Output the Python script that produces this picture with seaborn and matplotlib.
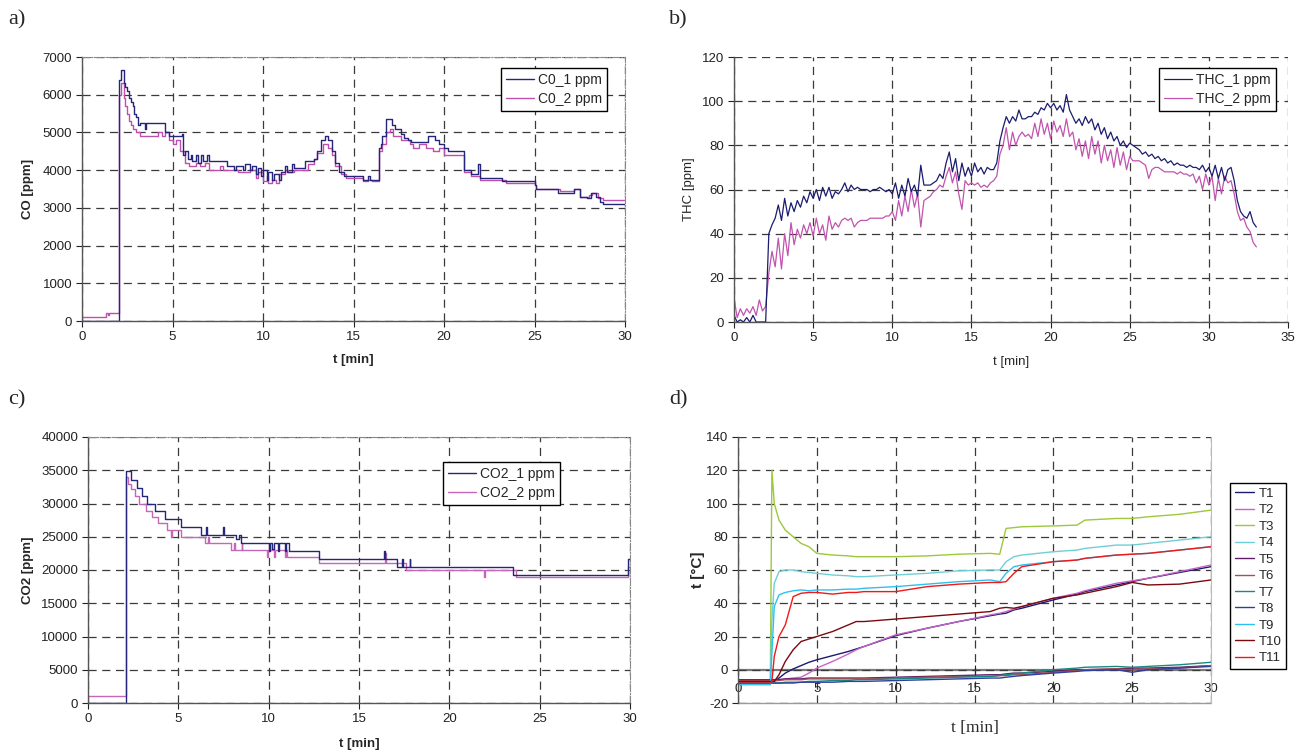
import numpy as np
import pandas as pd
import matplotlib
matplotlib.use("Agg")
import matplotlib.pyplot as plt
import seaborn as sns

# ---------------- data ----------------
# a) CO steps (time [min], ppm)
CO1 = [(0, 0), (2.05, 6400), (2.15, 6650), (2.3, 6300), (2.4, 6200), (2.5, 6100), (2.6, 5900),
       (2.7, 5800), (2.8, 5700), (2.9, 5500), (3.0, 5400), (3.1, 5200), (3.2, 5250), (3.5, 5100),
       (3.55, 5250), (4.6, 5000), (4.8, 4900), (5.5, 4950), (5.6, 4400), (5.7, 4500), (5.85, 4300),
       (6.0, 4400), (6.1, 4250), (6.3, 4400), (6.4, 4200), (6.6, 4400), (6.7, 4250), (6.9, 4400),
       (7.0, 4250), (7.5, 4250), (8.0, 4100), (8.4, 4000), (8.5, 4100), (8.9, 4000), (9.0, 4150),
       (9.3, 4000), (9.4, 4100), (9.6, 3900), (9.7, 4050), (9.9, 3850), (10.0, 4000), (10.2, 3750),
       (10.3, 3950), (10.5, 3750), (10.6, 3900), (10.9, 3750), (11.0, 3950), (11.2, 4100),
       (11.3, 3950), (11.6, 4150), (11.7, 4050), (12.3, 4250), (12.8, 4300), (13.0, 4500),
       (13.2, 4800), (13.4, 4900), (13.6, 4800), (13.8, 4500), (14.0, 4200), (14.2, 3950),
       (14.5, 3850), (15.5, 3750), (15.8, 3850), (15.9, 3750), (16.4, 4600), (16.5, 4700),
       (16.6, 4900), (16.8, 5350), (17.1, 5200), (17.3, 5100), (17.6, 4950), (17.8, 4850),
       (18.0, 4800), (18.2, 4750), (18.5, 4750), (19.1, 4900), (19.5, 4800), (19.7, 4700),
       (20.0, 4600), (20.2, 4500), (21.1, 4000), (21.5, 3900), (21.9, 4150), (22.0, 3800),
       (23.2, 3700), (25.0, 3600), (25.1, 3500), (26.3, 3400), (27.2, 3500), (27.5, 3300),
       (27.9, 3250), (28.1, 3400), (28.4, 3300), (28.6, 3150), (28.8, 3100), (30.0, 3100)]
CO2 = [(0, 100), (1.3, 200), (1.45, 150), (1.5, 200), (2.05, 6000), (2.15, 6300), (2.3, 5900),
       (2.4, 5700), (2.5, 5500), (2.6, 5300), (2.7, 5200), (2.8, 5100), (3.0, 5000), (3.2, 4900),
       (4.2, 5000), (4.4, 4900), (4.6, 5000), (4.8, 4800), (5.0, 4700), (5.2, 4800), (5.4, 4500),
       (5.7, 4200), (5.9, 4100), (6.3, 4200), (6.5, 4100), (6.8, 4200), (7.0, 4000), (7.6, 4100),
       (7.8, 4000), (8.6, 3950), (9.3, 4000), (9.6, 3800), (9.7, 3950), (10.0, 3700),
       (10.2, 3850), (10.3, 3650), (10.5, 3750), (10.7, 3650), (10.9, 3900), (11.2, 4000),
       (11.4, 3950), (11.7, 4000), (12.5, 4150), (12.8, 4300), (13.0, 4450), (13.3, 4700),
       (13.6, 4600), (13.8, 4400), (14.0, 4100), (14.3, 3900), (14.6, 3800), (15.5, 3700),
       (15.8, 3750), (16.0, 3700), (16.4, 4500), (16.6, 4700), (16.8, 5000), (17.0, 5100),
       (17.2, 4900), (17.6, 4800), (18.1, 4700), (18.3, 4600), (18.6, 4700), (19.0, 4600),
       (19.4, 4500), (19.7, 4600), (20.0, 4400), (21.1, 3950), (21.5, 3850), (22.0, 3750),
       (23.4, 3650), (25.0, 3600), (25.1, 3500), (26.4, 3450), (27.2, 3500), (27.5, 3300),
       (28.0, 3350), (28.2, 3400), (28.5, 3250), (28.8, 3200), (30.0, 3200)]

# b) THC, sampled every 0.2 min from 0 to 33 min
THC_STEP = 0.2
THC1 = [3, 0, 1, 0, 2, 0, 3, 0, 0, 0, 0,
        40, 44, 47, 53, 46, 56, 48, 54, 50,
        55, 52, 57, 54, 59, 56, 60, 55, 61, 57,
        61, 56, 59, 58, 60, 63, 59, 62, 60, 61,
        60, 60, 60, 59, 60, 60, 61, 60, 59, 60,
        58, 63, 56, 62, 57, 65, 59, 62, 57, 71,
        62, 62, 62, 63, 64, 67, 65, 72, 77, 68,
        74, 64, 72, 66, 70, 66, 72, 68, 70, 67,
        70, 69, 69, 72, 82, 88, 93, 90, 93, 91,
        96, 92, 92, 93, 93, 95, 94, 97, 96, 99,
        97, 99, 96, 98, 95, 103, 96, 93, 90, 92,
        89, 93, 90, 92, 87, 90, 85, 88, 83, 86,
        82, 84, 80, 82, 79, 81, 80, 79, 78, 76,
        77, 75, 76, 74, 75, 73, 74, 72, 73, 71,
        72, 71, 71, 70, 71, 70, 70, 69, 71, 68,
        70, 66, 71, 65, 70, 64, 69, 70, 64, 55,
        50, 48, 47, 50, 45, 43]
THC2 = [11, 2, 6, 3, 6, 4, 7, 3, 10, 5, 7,
        22, 32, 25, 38, 24, 40, 30, 45, 35,
        42, 38, 44, 40, 45, 39, 47, 40, 44, 37,
        48, 42, 45, 43, 46, 47, 46, 47, 43, 45,
        46, 46, 46, 47, 47, 47, 47, 47, 48, 48,
        50, 46, 55, 48, 57, 50, 60, 52, 58, 43,
        55, 56, 57, 59, 60, 62, 61, 66, 70, 63,
        68, 58, 51, 64, 62, 63, 62, 63, 61, 62,
        61, 63, 64, 66, 76, 80, 88, 78, 86, 80,
        84, 86, 84, 85, 83, 90, 84, 92, 85, 90,
        83, 91, 86, 89, 84, 92, 84, 86, 78, 83,
        75, 82, 74, 84, 76, 82, 72, 80, 73, 78,
        70, 79, 71, 77, 69, 75, 73, 73, 73, 72,
        71, 65, 69, 70, 70, 69, 68, 68, 68, 68,
        67, 68, 67, 67, 66, 67, 63, 66, 60, 67,
        62, 66, 55, 65, 58, 66, 63, 64, 58, 50,
        46, 47, 43, 41, 36, 34]

# c) CO2 steps (time [min], ppm)
CO2_1 = [(0, 0), (2.08, 34900), (2.38, 33600), (2.69, 32400), (3.0, 31200), (3.28, 30000),
         (3.71, 28800), (4.26, 27600), (5.15, 26400), (6.25, 25200), (6.55, 26400), (6.6, 25200),
         (7.45, 26400), (7.5, 25200), (8.2, 24600), (8.35, 25200), (8.45, 24000), (9.9, 24000),
         (10.0, 22800), (10.05, 24000), (10.2, 23200), (10.3, 24000), (10.5, 22800),
         (10.55, 24000), (10.9, 22800), (10.95, 24000), (11.1, 22800), (12.8, 21600),
         (16.4, 22800), (16.45, 21600), (17.1, 20400), (17.4, 21600), (17.45, 20400),
         (17.8, 21600), (17.85, 20400), (23.5, 19200), (29.9, 21600), (30.0, 21600)]
CO2_2 = [(0, 1000), (2.08, 34000), (2.2, 33000), (2.4, 32200), (2.6, 31200), (2.85, 30000),
         (3.2, 28800), (3.55, 28000), (3.9, 27000), (4.4, 26000), (4.6, 25000), (4.65, 26000),
         (5.15, 25000), (6.5, 24000), (6.65, 25000), (6.7, 24000), (7.9, 23000), (8.1, 24000),
         (8.15, 23000), (8.5, 24000), (8.55, 23000), (9.9, 22000), (9.95, 23000), (10.3, 22000),
         (10.35, 23000), (10.9, 22000), (10.95, 23000), (11.0, 22000), (12.8, 21000),
         (16.45, 22500), (16.5, 21000), (17.6, 20000), (21.9, 19000), (21.95, 20000),
         (23.7, 19000), (29.9, 20500), (30.0, 20500)]

# d) temperatures
T_TIME = [0, 1.9, 2.05, 2.15, 2.3, 2.6, 3.0, 3.5, 4.0, 4.5, 5.0, 6.0, 7.0, 7.5, 8.0, 10.0,
          12.0, 14.0, 16.0, 16.6, 17.0, 17.5, 18.0, 20.0, 21.5, 22.0, 24.0, 25.0, 26.0, 28.0, 30.0]
T1 = [-7, -7, -7, -7, -7, -5, -2, 0.5, 2.5, 4.5, 6, 8.5, 11, 12.5, 14, 20.5,
      25, 29, 32.5, 33.5, 34, 36, 37, 42, 45.5, 47, 51, 53, 55, 58.5, 62]
T2 = [-7, -7, -7, -7, -7, -6, -5.5, -5, -4.5, -2, 1, 5, 9.5, 12, 14, 21,
      25, 29, 33, 34, 35, 36.5, 38, 43, 46, 47.5, 52, 53.5, 55, 59, 63]
T3 = [-7, -7, -7, 120, 100, 90, 84, 80, 76, 74, 70, 69, 68.5, 68, 68, 68,
      68.5, 69.5, 70, 69.5, 85, 85.5, 86, 86.5, 87, 90, 91, 91, 92, 93.5, 96]
T4 = [-8, -8, -8, 30, 52, 59, 60, 60, 59, 58.5, 58, 57, 56.5, 56, 56, 57,
      58, 59.5, 60, 60, 65, 68, 69, 71, 72, 73, 75, 75, 76, 78, 80]
T5 = [-6, -6, -6, -6, -6, -6, -5.5, -5.5, -5.5, -5, -5, -5, -5, -5, -5, -4.5,
      -4, -3.5, -3, -3, -2.5, -2, -2, -1, 0, 0, 0.5, 1, 1, 1.5, 2.5]
T6 = [-6.5, -6.5, -6.5, -6.5, -6.5, -6.5, -6, -6, -6, -5.5, -5.5, -5.5, -5.5, -5.5, -5.5, -5,
      -4.5, -4, -4, -3.5, -3.5, -3, -3, -1.5, -0.5, 0, 0.5, 0, 0.5, 1, 2.5]
T7 = [-8, -8, -8, -8, -8, -8, -7.5, -7.5, -7.5, -7, -7, -6.5, -6.5, -6, -6, -5.5,
      -5, -4.5, -4, -3.5, -3, -2.5, -2, 0, 1, 1.5, 2, 1.5, 2, 3, 4.5]
T8 = [-8, -8, -8, -8, -8, -8, -8, -8, -7.5, -7.5, -7.5, -7.5, -7, -7, -7, -6.5,
      -6, -5.5, -5, -5, -4.5, -4, -3.5, -2, -1, -0.5, 0, -1.5, 0, 1, 2]
T9 = [-9, -9, -9, 10, 38, 45, 46.5, 47.5, 48, 47.5, 48, 48, 48.5, 48.5, 49, 50,
      51.5, 53, 54, 53, 58, 62, 63, 65, 66, 67, 69, 69.5, 70, 72, 74]
T10 = [-7, -7, -7, -7, -7, -3, 5, 12, 17, 18.5, 20, 23, 27, 29, 29, 30.5,
       32, 33.5, 35, 37, 37.5, 37, 38, 43, 45, 46, 50, 52.5, 51, 51.5, 54]
T11 = [-8, -8, -8, -7, 8, 20, 27, 44, 46, 46.5, 46.5, 45.5, 46.5, 46.5, 47, 47,
       50, 51.5, 52.5, 52.5, 53, 58, 62, 65, 66, 67, 69, 69.5, 70, 72, 74]
T_NAMES = ["T1", "T2", "T3", "T4", "T5", "T6", "T7", "T8", "T9", "T10", "T11"]
T_COLORS = ["#1a1a70", "#c863c4", "#9dc83c", "#6fcfd6", "#5e1a66", "#a85050",
            "#1a8a80", "#2f3f9f", "#2ec0f0", "#7a0a10", "#f01818"]

# ---------------- style ----------------
sns.set_theme(style="white")
plt.rcParams["font.family"] = ["Liberation Sans", "DejaVu Sans"]
plt.rcParams["axes.unicode_minus"] = False

W, H = 1306, 753
fig = plt.figure(figsize=(W / 100, H / 100), dpi=100)
fig.patch.set_facecolor("white")


def rect(x0, x1, ytop, ybot):
    return [x0 / W, 1 - ybot / H, (x1 - x0) / W, (ybot - ytop) / H]


axA = fig.add_axes(rect(82, 625, 57, 321))
axB = fig.add_axes(rect(734, 1288, 57, 322))
axC = fig.add_axes(rect(88, 630, 437, 703))
axD = fig.add_axes(rect(738, 1211, 437, 703))

GRID = dict(color="#3a3a3a", lw=0.9, ls=(0, (6.5, 4.5)))
TICKFS = 9.5
C1 = "#25257a"
C2 = "#bd4fad"


def base(ax, xmax, xstep, ymin, ymax, ystep):
    ax.set_facecolor("white")
    ax.set_xlim(0, xmax)
    ax.set_ylim(ymin, ymax)
    ax.set_xticks(np.arange(0, xmax + 0.01, xstep))
    ax.set_yticks(np.arange(ymin, ymax + 0.01, ystep))
    ax.set_axisbelow(True)
    ax.grid(True, **GRID)
    ax.tick_params(axis="both", labelsize=TICKFS, colors="#222222", length=4,
                   width=0.8, direction="out", pad=3, left=True, bottom=True)
    for s in ["left", "bottom"]:
        ax.spines[s].set_color("#555555")
        ax.spines[s].set_linewidth(1.0)


def legend(ax, loc, anchor, order=None, fs=10, spacing=0.35, hl=2.0):
    handles, labels = ax.get_legend_handles_labels()
    if order is not None:
        handles = [handles[i] for i in order]
        labels = [labels[i] for i in order]
    leg = ax.legend(handles, labels, loc=loc, bbox_to_anchor=anchor, frameon=True,
                    fancybox=False, edgecolor="black", framealpha=1, fontsize=fs,
                    handlelength=hl, handletextpad=0.3, borderpad=0.35,
                    labelspacing=spacing, borderaxespad=0)
    leg.get_frame().set_linewidth(1.0)
    return leg


def steps(ax, pairs, color, label):
    t = [p[0] for p in pairs]
    v = [p[1] for p in pairs]
    sns.lineplot(x=t, y=v, ax=ax, color=color, lw=1.0, label=label,
                 drawstyle="steps-post", estimator=None, sort=False)


# ---- a) CO ----
base(axA, 30, 5, 0, 7000, 1000)
steps(axA, CO2, C2, "C0_2 ppm")
steps(axA, CO1, C1, "C0_1 ppm")
for s in ["top", "right"]:
    axA.spines[s].set_linestyle("-.")
    axA.spines[s].set_color("#888888")
    axA.spines[s].set_linewidth(0.8)
axA.set_xlabel("t [min]", fontsize=9.5, fontweight="bold")
axA.set_ylabel("CO [ppm]", fontsize=9.5, fontweight="bold")
axA.xaxis.set_label_coords(0.5, -0.125)
axA.yaxis.set_label_coords(-0.088, 0.5)
legend(axA, "upper right", (0.967, 0.958), order=[1, 0])

# ---- b) THC ----
base(axB, 35, 5, 0, 120, 20)
tb1 = np.arange(len(THC1)) * THC_STEP
tb2 = np.arange(len(THC2)) * THC_STEP
sns.lineplot(x=tb2, y=THC2, ax=axB, color="#c054ae", lw=0.9, label="THC_2 ppm",
             estimator=None, sort=False)
sns.lineplot(x=tb1, y=THC1, ax=axB, color="#1c1c6e", lw=0.9, label="THC_1 ppm",
             estimator=None, sort=False)
for s in ["top", "right"]:
    axB.spines[s].set_visible(False)
axB.set_xlabel("t [min]", fontsize=9.5)
axB.set_ylabel("THC [ppm]", fontsize=9.5)
axB.xaxis.set_label_coords(0.5, -0.128)
axB.yaxis.set_label_coords(-0.070, 0.5)
legend(axB, "upper right", (0.978, 0.958), order=[1, 0])

# ---- c) CO2 ----
base(axC, 30, 5, 0, 40000, 5000)
steps(axC, CO2_2, "#c666b8", "CO2_2 ppm")
steps(axC, CO2_1, C1, "CO2_1 ppm")
for s in ["top", "right"]:
    axC.spines[s].set_linestyle("-.")
    axC.spines[s].set_color("#888888")
    axC.spines[s].set_linewidth(0.8)
axC.set_xlabel("t [min]", fontsize=9.5, fontweight="bold")
axC.set_ylabel("CO2 [ppm]", fontsize=9.5, fontweight="bold")
axC.xaxis.set_label_coords(0.5, -0.132)
axC.yaxis.set_label_coords(-0.100, 0.5)
legend(axC, "upper right", (0.871, 0.906), order=[1, 0])

# ---- d) temperatures ----
base(axD, 30, 5, -20, 140, 20)
series = [T1, T2, T3, T4, T5, T6, T7, T8, T9, T10, T11]
for name, vals, col in zip(T_NAMES, series, T_COLORS):
    sns.lineplot(x=T_TIME, y=vals, ax=axD, color=col, lw=1.0, label=name,
                 estimator=None, sort=False)
axD.spines["top"].set_visible(False)
axD.spines["right"].set_color("#bbbbbb")
axD.spines["right"].set_linewidth(0.8)
axD.spines["bottom"].set_position(("data", 0))
axD.spines["bottom"].set_color("#7a7a7a")
axD.spines["bottom"].set_linewidth(1.6)
axD.spines["bottom"].set_zorder(0.5)
axD.tick_params(axis="x", direction="inout", length=7, pad=6)
axD.axhline(-20, color="#9a9a9a", lw=1.0, clip_on=False, zorder=0.4)
axD.set_xlabel("t [min]", fontsize=12.5, fontfamily="Liberation Serif")
axD.set_ylabel("t [°C]", fontsize=11, fontweight="bold")
axD.xaxis.set_label_coords(0.5, -0.065)
axD.yaxis.set_label_coords(-0.070, 0.5)
legend(axD, "upper left", (1.04, 0.827), fs=9.5, spacing=0.32, hl=1.5)

# panel letters
for txt, x, y in [("a)", 8, 20), ("b)", 669, 20), ("c)", 8, 400), ("d)", 669, 400)]:
    fig.text(x / W, 1 - y / H, txt, fontsize=16, fontfamily="Liberation Serif",
             va="center", ha="left")

fig.savefig("out.png", dpi=100, facecolor="white")
